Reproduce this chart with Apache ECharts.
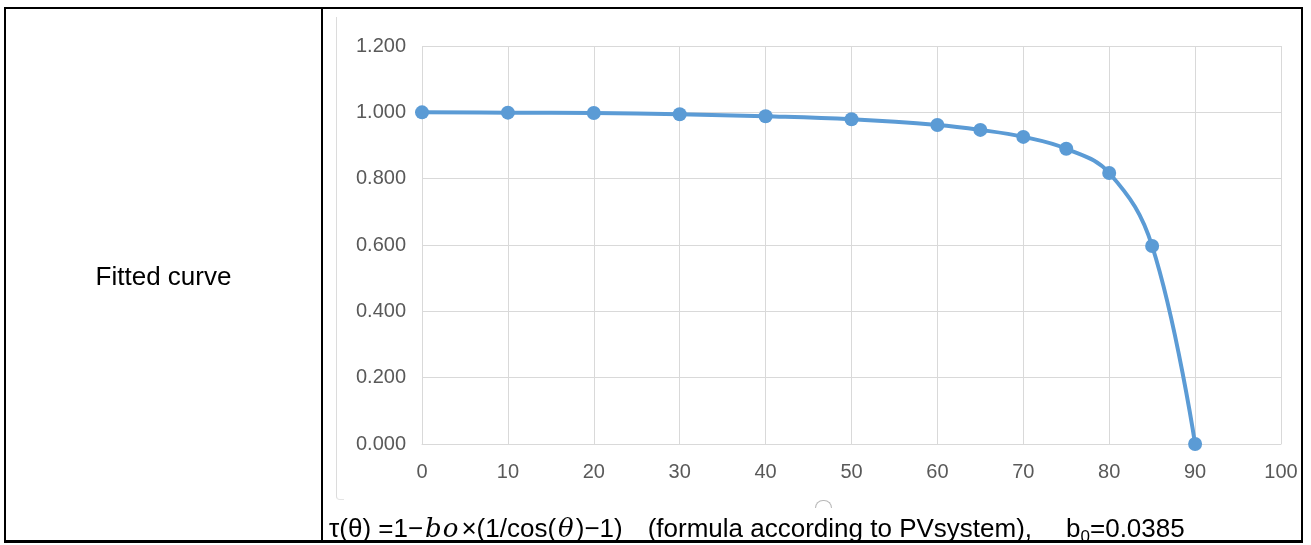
<!DOCTYPE html>
<html>
<head>
<meta charset="utf-8">
<script src="https://cdn.jsdelivr.net/npm/echarts@6/dist/echarts.min.js"></script>
<style>
  html, body { margin: 0; padding: 0; background: #fff; }
  body { width: 1311px; height: 545px; position: relative; overflow: hidden; font-family: "Liberation Sans", Arial, sans-serif; }
  #chart { position: absolute; left: 0; top: 0; width: 1311px; height: 545px; }
  .abs { position: absolute; }
  #outer { left: 4px; top: 7px; width: 1299px; height: 536px; box-sizing: border-box; border: 2px solid #000; border-bottom-width: 3px; pointer-events: none; }
  #divider { left: 321px; top: 7px; width: 2px; height: 536px; background: #000; }
  #frame { left: 336px; top: 17px; width: 8px; height: 483px; box-sizing: border-box; border-left: 1.5px solid #dcdcdc; border-bottom: 1.5px solid #e4e4e4; border-bottom-left-radius: 4px; }
  #handle { left: 815px; top: 500px; width: 17px; height: 8px; box-sizing: border-box; border: 1.5px solid #9a9a9a; border-bottom: none; border-radius: 9px 9px 0 0; opacity: 0.7; }
  #leftText { left: 6px; top: 263px; width: 315px; text-align: center; font-size: 26px; line-height: 26px; color: #000; }
  #caption { left: 329px; top: 515px; font-size: 26px; line-height: 26px; color: #000; white-space: nowrap; }
  #caption i { font-family: "DejaVu Serif", "Liberation Serif", serif; font-style: italic; font-size: 26px; padding: 0 2px; }
  #caption i.bo { letter-spacing: 1px; }
  #caption sub { font-size: 17px; vertical-align: baseline; position: relative; top: 5px; }
  .gap1 { display: inline-block; width: 25px; }
  .gap2 { display: inline-block; width: 34px; }
</style>
</head>
<body>
<div id="chart"></div>
<div id="frame" class="abs"></div>
<div id="handle" class="abs"></div>
<div id="outer" class="abs"></div>
<div id="divider" class="abs"></div>
<div id="leftText" class="abs">Fitted curve</div>
<div id="caption" class="abs">τ(θ) =1−<i class="bo">bo</i>×(1/cos(<i>θ</i>)−1)<span class="gap1"></span>(formula according to PVsystem),<span class="gap2"></span>b<sub>0</sub>=0.0385</div>
<script>
// Incidence angle (degrees)
const angles = [0, 10, 20, 30, 40, 50, 60, 65, 70, 75, 80, 85, 90];
// Transmittance values
const tau = [1.000, 0.999, 0.998, 0.994, 0.988, 0.979, 0.962, 0.947, 0.926, 0.890, 0.817, 0.597, 0.000];
// Axis settings
const xTicks = { min: 0, max: 100, interval: 10 };
const yTicks = { min: 0, max: 1.2, interval: 0.2 };

const chart = echarts.init(document.getElementById('chart'), null, { renderer: 'canvas' });
const gridColor = '#d9d9d9';
const labelColor = '#595959';
chart.setOption({
  animation: false,
  backgroundColor: 'transparent',
  grid: { left: 422, top: 46, right: 30, bottom: 101, containLabel: false },
  xAxis: {
    type: 'value', min: xTicks.min, max: xTicks.max, interval: xTicks.interval,
    axisLine: { show: true, lineStyle: { color: gridColor, width: 1 } },
    axisTick: { show: false },
    splitLine: { show: true, lineStyle: { color: gridColor, width: 1 } },
    axisLabel: { color: labelColor, fontSize: 20, fontFamily: 'Liberation Sans, Arial, sans-serif', margin: 18 }
  },
  yAxis: {
    type: 'value', min: yTicks.min, max: yTicks.max, interval: yTicks.interval,
    axisLine: { show: false },
    axisTick: { show: false },
    splitLine: { show: true, lineStyle: { color: gridColor, width: 1 } },
    axisLabel: { color: labelColor, fontSize: 20, fontFamily: 'Liberation Sans, Arial, sans-serif', margin: 16,
      formatter: v => v.toFixed(3) }
  },
  series: [{
    type: 'line',
    data: angles.map((a, i) => [a, tau[i]]),
    smooth: 0.4,
    symbol: 'circle',
    symbolSize: 14,
    itemStyle: { color: '#5b9bd5' },
    lineStyle: { color: '#5b9bd5', width: 4 }
  }]
});
</script>
</body>
</html>
